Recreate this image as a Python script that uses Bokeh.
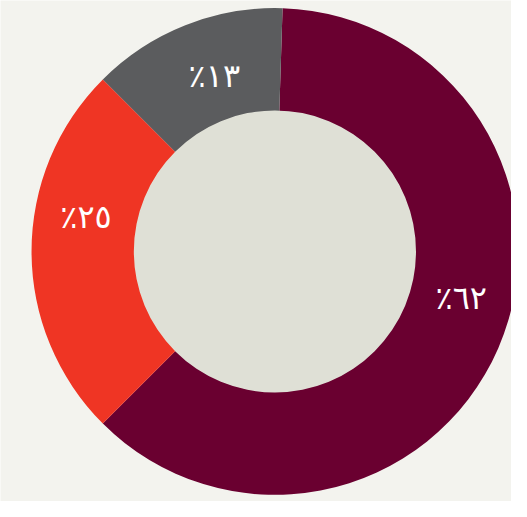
import numpy as np
from bokeh.plotting import figure
from bokeh.models import Range1d, ColumnDataSource
from bokeh.core.properties import value
from bokeh.embed import file_html
from bokeh.resources import INLINE

# data
categories = ["A", "B", "C"]
shares = [62, 25, 13]
labels = ["٪٦٢", "٪٢٥", "٪١٣"]
colors = ["#6a0030", "#ef3524", "#5b5c5e"]

# layout (in reference-pixel units)
RW, RH = 527, 517
W, H = 511, 501
cx, cy = 283, RH - 259
r_out, r_in = 251, 145.5
start_deg = 88.2

vals = np.array(shares, dtype=float)
frac = vals / vals.sum()
# clockwise from start
ends = np.deg2rad(start_deg) - 2 * np.pi * np.concatenate([[0], np.cumsum(frac)[:-1]])
starts = ends - 2 * np.pi * frac
mids = (starts + ends) / 2

label_off = np.deg2rad(np.array([9.5, -10.3, -2.6]))
label_r = np.array([198, 198, 192])
lx = cx + label_r * np.cos(mids + label_off)
ly = cy + label_r * np.sin(mids + label_off)

src = ColumnDataSource(dict(cat=categories, start=starts, end=ends, color=colors,
                            lx=lx, ly=ly, label=labels))

p = figure(width=W, height=H, output_backend="svg", toolbar_location=None,
           x_range=Range1d(0, RW), y_range=Range1d(0, RH), min_border=0)
p.axis.visible = False
p.grid.visible = False
p.outline_line_color = None
p.background_fill_color = "#f3f3ee"
p.border_fill_color = "#f3f3ee"

p.annular_wedge(x=cx, y=cy, inner_radius=r_in - 1, outer_radius=r_out,
                start_angle="start", end_angle="end", color="color",
                line_color=None, source=src)
p.circle(x=[cx], y=[cy], radius=r_in, fill_color="#dfe0d6", line_color=None)

p.text(x="lx", y="ly", text="label", source=src, text_color="white",
       text_font=value("DejaVu Sans"), text_font_size="32px",
       text_align="center", text_baseline="middle")

open("out.html", "w").write(file_html(p, INLINE))
